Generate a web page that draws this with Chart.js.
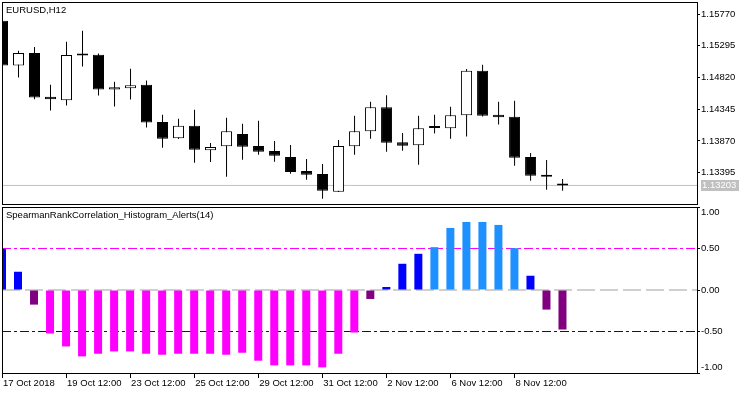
<!DOCTYPE html>
<html><head><meta charset="utf-8">
<script src="https://cdn.jsdelivr.net/npm/chart.js@4/dist/chart.umd.min.js"></script>
<style>
html,body{margin:0;padding:0;background:#fff;overflow:hidden;}
#wrap{position:relative;width:750px;height:394px;background:#fff;}
canvas{position:absolute;left:0;}
#c1{top:0;}
#c2{top:206px;}
</style></head><body>
<div id="wrap"><canvas id="c1" width="750" height="206"></canvas><canvas id="c2" width="750" height="188"></canvas></div>
<script>
const symbolLabel = 'EURUSD,H12';
const indicatorLabel = 'SpearmanRankCorrelation_Histogram_Alerts(14)';

const opens  = [1.15670,1.14999,1.15185,1.14530,1.14480,1.15179,1.15160,1.14639,1.14660,1.14710,1.14154,1.13910,1.14095,1.13730,1.13790,1.13975,1.13794,1.13720,1.13630,1.13420,1.13374,1.13109,1.13790,1.14015,1.14375,1.13850,1.13805,1.14065,1.14060,1.14255,1.14920,1.14260,1.14230,1.13630,1.13360,1.13210];
const highs  = [1.15760,1.15220,1.15275,1.14710,1.15355,1.15520,1.15179,1.14755,1.14950,1.14774,1.14260,1.14200,1.14335,1.13840,1.14215,1.14125,1.14170,1.13870,1.13810,1.13600,1.13524,1.13885,1.14245,1.14455,1.14555,1.13990,1.14245,1.14260,1.14380,1.14945,1.15010,1.14455,1.14470,1.13690,1.13584,1.13299];
const lows   = [1.14950,1.14819,1.14495,1.14324,1.14399,1.14984,1.14549,1.14384,1.14489,1.14069,1.13769,1.13899,1.13544,1.13554,1.13334,1.13589,1.13664,1.13559,1.13379,1.13289,1.13004,1.13105,1.13664,1.13904,1.13709,1.13724,1.13514,1.13979,1.13904,1.13934,1.14234,1.14114,1.13499,1.13274,1.13139,1.13124];
const closes = [1.14999,1.15185,1.14519,1.14495,1.15155,1.15149,1.14639,1.14675,1.14705,1.14144,1.13904,1.14095,1.13739,1.13780,1.14015,1.13784,1.13709,1.13649,1.13405,1.13364,1.13124,1.13794,1.14015,1.14375,1.13844,1.13799,1.14060,1.14062,1.14255,1.14920,1.14245,1.14225,1.13619,1.13349,1.13334,1.13203];

const spearman = [0.495,0.22,-0.176,-0.524,-0.68,-0.80,-0.768,-0.74,-0.74,-0.768,-0.78,-0.768,-0.768,-0.768,-0.78,-0.756,-0.852,-0.908,-0.908,-0.908,-0.932,-0.768,-0.512,-0.108,0.036,0.316,0.436,0.516,0.748,0.82,0.82,0.784,0.504,0.172,-0.236,-0.476];
const upperLevel = 0.5;
const lowerLevel = -0.5;

const timeTickBars = [0,4,8,12,16,20,24,28,32];
const timeTickLabels = ['17 Oct 2018','19 Oct 12:00','23 Oct 12:00','25 Oct 12:00','29 Oct 12:00','31 Oct 12:00','2 Nov 12:00','6 Nov 12:00','8 Nov 12:00'];
const priceTicks = [1.15770,1.15295,1.14820,1.14345,1.13870,1.13395];
const spearmanTicks = [1,0.5,0,-0.5,-1];

const X_MAX = 43.4;
const PRICE_MIN = 1.12925, PRICE_MAX = 1.15950;
const FONT = {family:"'Liberation Sans', Arial, sans-serif", size:9.5};
const FONT_CSS = "9.5px 'Liberation Sans', Arial, sans-serif";
const lastPrice = closes[closes.length-1];

function framePlugin(label, extra){
  return {
    id:'frame'+label.length,
    afterDraw(chart){
      const ctx = chart.ctx, a = chart.chartArea;
      const L = Math.floor(a.left), R = Math.round(a.right), T = Math.floor(a.top), B = Math.round(a.bottom);
      ctx.save();
      ctx.fillStyle = '#000';
      ctx.fillRect(L, T, R-L+1, 1);
      ctx.fillRect(L, B, R-L+1, 1);
      ctx.fillRect(L, T, 1, B-T+1);
      ctx.fillRect(R, T, 1, B-T+1);
      ctx.font = FONT_CSS;
      ctx.textBaseline = 'alphabetic';
      ctx.textAlign = 'left';
      ctx.fillText(label, 6, T + 11);
      if (extra) extra(chart, ctx);
      ctx.restore();
    }
  };
}

function yAxisCommon(){
  return {
    position:'right',
    border:{display:false},
    grid:{drawOnChartArea:false, drawTicks:true, tickLength:3, color:'#000'},
    afterFit(scale){ scale.width = 53; scale.paddingTop = 0; scale.paddingBottom = 0; }
  };
}

const xCommon = {
  type:'linear', min:0, max:X_MAX, offset:false,
  grid:{display:false, offset:false},
  afterBuildTicks(scale){ scale.ticks = timeTickBars.map(v=>({value:v})); }
};

// ---------- Price chart ----------
new Chart(document.getElementById('c1'), {
  type:'bar',
  data:{
    datasets:[
      {
        type:'line',
        data:[{x:0,y:lastPrice},{x:X_MAX,y:lastPrice}],
        borderColor:'#C0C0C0', borderWidth:1, pointRadius:0, order:3, clip:0
      },
      {
        data: lows.map((l,i)=>({x:i, y:[l, highs[i]]})),
        backgroundColor:'#000', borderWidth:0, barThickness:1, inflateAmount:0,
        grouped:false, order:2, clip:0
      },
      {
        data: opens.map((o,i)=>({x:i, y:[o, closes[i]]})),
        backgroundColor: opens.map((o,i)=> closes[i] > o ? '#FFFFFF' : '#000000'),
        borderColor:'#000', borderWidth:1, borderSkipped:false, barThickness:11,
        minBarLength:2, inflateAmount:0, grouped:false, order:1, clip:0
      }
    ]
  },
  options:{
    responsive:false, animation:false, devicePixelRatio:1,
    layout:{padding:{left:2.5, top:2, bottom:2, right:0}},
    plugins:{legend:{display:false}, tooltip:{enabled:false}},
    scales:{
      x: Object.assign({}, xCommon, {display:false}),
      y: Object.assign(yAxisCommon(), {
        min:PRICE_MIN, max:PRICE_MAX,
        afterBuildTicks(scale){ scale.ticks = priceTicks.map(v=>({value:v})); },
        ticks:{color:'#000', font:FONT, padding:1, callback:v=>v.toFixed(5)}
      })
    }
  },
  plugins:[framePlugin(symbolLabel, (chart, ctx)=>{
    const y = Math.round(chart.scales.y.getPixelForValue(lastPrice));
    ctx.fillStyle = '#C0C0C0';
    ctx.fillRect(701, y-5, 38, 11);
    ctx.fillStyle = '#FFFFFF';
    ctx.textBaseline = 'middle';
    ctx.fillText(lastPrice.toFixed(5), 702, y+0.5);
  })]
});

// ---------- Indicator chart ----------
function barColor(v){
  if (v >= upperLevel) return '#1E90FF';
  if (v > 0) return '#0000FF';
  if (v > lowerLevel) return '#800080';
  return '#FF00FF';
}

new Chart(document.getElementById('c2'), {
  type:'bar',
  data:{
    datasets:[
      {
        type:'line', data:[{x:0,y:upperLevel},{x:X_MAX,y:upperLevel}],
        borderColor:'#FF00FF', borderWidth:1, borderDash:[9,3,3,3], pointRadius:0, order:2, clip:0
      },
      {
        type:'line', data:[{x:0,y:lowerLevel},{x:X_MAX,y:lowerLevel}],
        borderColor:'#0000CD', borderWidth:1, borderDash:[9,3,3,3], pointRadius:0, order:2, clip:0
      },
      {
        type:'line', data:[{x:0,y:0},{x:X_MAX,y:0}],
        borderColor:'#A0A0A0', borderWidth:1, borderDash:[18,5], pointRadius:0, order:2, clip:0
      },
      {
        data: spearman.map((v,i)=>({x:i, y:v})),
        backgroundColor: spearman.map(barColor),
        borderWidth:0, barThickness:8, inflateAmount:0, grouped:false, order:1, clip:0
      }
    ]
  },
  options:{
    responsive:false, animation:false, devicePixelRatio:1,
    layout:{padding:{left:2, top:1, bottom:0, right:0}},
    plugins:{legend:{display:false}, tooltip:{enabled:false}},
    scales:{
      x: Object.assign({}, xCommon, {
        display:true,
        border:{display:false},
        grid:{display:true, drawOnChartArea:false, drawTicks:true, tickLength:5, color:'#000', offset:false},
        ticks:{color:'#000', font:FONT, padding:0, align:'start', labelOffset:1, autoSkip:false, maxRotation:0, minRotation:0,
          callback:v=>{ const k = timeTickBars.indexOf(v); return k>=0 ? timeTickLabels[k] : ''; }},
        afterFit(scale){ scale.height = 21; scale.paddingLeft = 0; scale.paddingRight = 0; }
      }),
      y: Object.assign(yAxisCommon(), {
        min:-1, max:1,
        afterBuildTicks(scale){ scale.ticks = spearmanTicks.map(v=>({value:v})); },
        ticks:{color:'#000', font:FONT, padding:1, callback:v=>{
          const s = v.toFixed(2);
          if (v === 1) return ['', s];
          if (v === -1) return [s, ''];
          return s;
        }}
      })
    }
  },
  plugins:[framePlugin(indicatorLabel)]
});
</script>
</body></html>
